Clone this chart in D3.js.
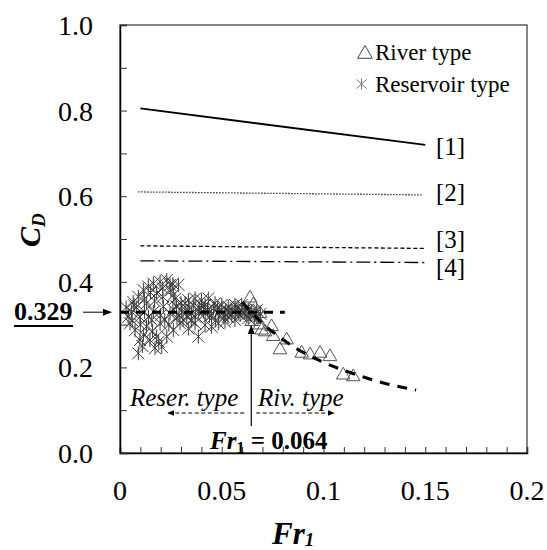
<!DOCTYPE html>
<html>
<head>
<meta charset="utf-8">
<script src="https://cdn.jsdelivr.net/npm/d3@7"></script>
<style>
  body { margin: 0; background: #fff; }
</style>
</head>
<body>
<div id="chart-area"></div>
<script>
// Data
var resFr = [0.0057,0.0065,0.009,0.0115,0.0139,0.0164,0.0197,0.023,0.0246,0.0287,0.0262,0.018,0.0131,0.0098,0.0049,0.0074,0.0115,0.0098,0.009,0.0147,0.018,0.0205,0.0172,0.023,0.0262,0.0295,0.0197,0.0156,0.0246,0.0303,0.0278,0.0213,0.0164,0.0328,0.032,
  0.0336,0.0369,0.0401,0.0434,0.0418,0.0467,0.05,0.0532,0.0565,0.0598,0.0614,0.0647,0.0663,0.0352,0.0385,0.0418,0.045,0.0483,0.0516,0.0549,0.0581,0.0369,0.0336,0.0385,0.0418,0.045,0.0483,0.0516,0.0565,0.063,0.0672,0.068,
  0.004,0.008,0.012,0.014,0.02,0.022,0.026,0.029,0.031,0.034,0.036,0.039,0.043,0.046,0.049,0.052,0.055,0.057,0.06,0.062,0.064,
  0.003,0.006,0.012,0.015,0.021,0.025,0.027,0.013,0.011,0.016,0.019,0.024,0.028,0.035,0.04,0.044,0.047,0.053,0.058,0.061,0.066,0.069,
  0.007,0.010,0.017,0.021,0.026,0.030,0.033,0.037,0.041,0.048,0.051,0.054,0.059,0.063];
var resCD = [0.330,0.353,0.365,0.381,0.389,0.396,0.400,0.404,0.393,0.393,0.369,0.373,0.350,0.318,0.303,0.287,0.276,0.264,0.233,0.264,0.272,0.248,0.245,0.272,0.287,0.303,0.303,0.311,0.326,0.334,0.342,0.342,0.330,0.318,0.350,
  0.357,0.361,0.357,0.361,0.346,0.350,0.346,0.342,0.346,0.346,0.334,0.330,0.322,0.326,0.330,0.326,0.322,0.326,0.326,0.322,0.326,0.303,0.291,0.272,0.299,0.295,0.303,0.307,0.311,0.315,0.334,0.318,
  0.318,0.340,0.330,0.318,0.322,0.311,0.336,0.322,0.311,0.340,0.345,0.338,0.335,0.338,0.331,0.334,0.333,0.338,0.331,0.322,0.326,
  0.340,0.310,0.360,0.375,0.385,0.380,0.360,0.295,0.250,0.285,0.260,0.300,0.315,0.310,0.345,0.320,0.310,0.318,0.340,0.328,0.315,0.325,
  0.345,0.300,0.355,0.365,0.395,0.350,0.330,0.318,0.330,0.340,0.318,0.330,0.322,0.335];

var rivFr = [0.0639,0.0655,0.0655,0.0647,0.0688,0.0688,0.0696,0.0745,0.0713,0.0753,0.0819,0.0786,0.0893,0.0934,0.0983,0.1032,0.1097,0.1146];
var rivCD = [0.362,0.346,0.330,0.307,0.326,0.299,0.287,0.295,0.283,0.272,0.264,0.241,0.233,0.229,0.233,0.225,0.182,0.178];

// trend of river type (read points)
var fitFr = [0.060,0.070,0.080,0.090,0.100,0.110,0.120,0.130,0.1455];
var fitCD = [0.353,0.303,0.265,0.235,0.212,0.193,0.177,0.163,0.147];

// reference lines [1]-[4]
var refNames = ["[1]","[2]","[3]","[4]"];
var refFr = [[0.01,0.15],[0.009,0.149],[0.01,0.15],[0.01,0.15]];
var refCD = [[0.805,0.720],[0.610,0.603],[0.484,0.478],[0.449,0.445]];
var refDash = [null, "1.2,1.8", "4,2.5", "14,4,2,4"];
var refLabelY = [155, 201, 248, 276];

var cdMean = 0.329, frCrit = 0.0645;

var xTicks = [0, 0.05, 0.1, 0.15, 0.2];
var yTicks = [0, 0.2, 0.4, 0.6, 0.8, 1.0];

var W = 547, H = 550;
var serif = "'Liberation Serif'";
var svg = d3.select("#chart-area").append("svg")
    .attr("width", W).attr("height", H);

function txt(px, py, size) {
  return svg.append("text").attr("x", px).attr("y", py)
      .style("font-family", serif).style("font-size", size + "px").attr("fill", "#000");
}

var x = d3.scaleLinear().domain([0, 0.2]).range([120, 527]);
var y = d3.scaleLinear().domain([0, 1]).range([453, 25]);

var defs = svg.append("defs");
defs.append("marker").attr("id", "ah").attr("viewBox", "0 0 10 10")
    .attr("refX", 9).attr("refY", 5).attr("markerWidth", 9).attr("markerHeight", 9)
    .attr("markerUnits", "userSpaceOnUse").attr("orient", "auto")
  .append("path").attr("d", "M0,1 L10,5 L0,9 Z").attr("fill", "#000");
defs.append("marker").attr("id", "ahs").attr("viewBox", "0 0 10 10")
    .attr("refX", 9).attr("refY", 5).attr("markerWidth", 7).attr("markerHeight", 7)
    .attr("markerUnits", "userSpaceOnUse").attr("orient", "auto")
  .append("path").attr("d", "M0,1 L10,5 L0,9 Z").attr("fill", "#000");

// frame
svg.append("rect").attr("x", 120).attr("y", 25).attr("width", 407).attr("height", 428)
    .attr("fill", "none").attr("stroke", "#444").attr("stroke-width", 1.3);

// Axes with inner ticks
var xAxis = svg.append("g").attr("transform", "translate(0,453)")
    .call(d3.axisBottom(x).tickValues(d3.range(0, 0.2001, 0.01)).tickSize(-6).tickFormat(""));
var yAxis = svg.append("g").attr("transform", "translate(120,0)")
    .call(d3.axisLeft(y).tickValues(d3.range(0, 1.001, 0.1)).tickSize(-7).tickFormat(""));
[xAxis, yAxis].forEach(function(a){
  a.select(".domain").attr("stroke", "#000").attr("stroke-width", 1.5);
  a.selectAll(".tick line").attr("stroke", "#333");
});

xTicks.forEach(function(d){
  txt(x(d), 500, 28).attr("text-anchor", "middle").text(d3.format("")(+d.toFixed(2)));
});
yTicks.forEach(function(d){
  txt(93, y(d) + 10, 28).attr("text-anchor", "end").text(d.toFixed(1));
});

// axis titles
var xt = txt(272, 544, 31).style("font-weight", "bold").style("font-style", "italic");
xt.append("tspan").text("Fr");
xt.append("tspan").style("font-size", "19px").attr("dy", 2).text("1");

var yt = txt(0, 0, 30).attr("transform", "translate(40,247) rotate(-90)")
    .style("font-weight", "bold").style("font-style", "italic");
yt.append("tspan").text("C");
yt.append("tspan").style("font-size", "19px").attr("dy", 5).text("D");

// scatter: reservoir type (asterisks)
var star = "M-6,-6L6,6M-6,6L6,-6M0,-7L0,7";
svg.append("g").selectAll("path").data(d3.range(resFr.length)).enter().append("path")
    .attr("transform", function(i){ return "translate(" + x(resFr[i]) + "," + y(resCD[i]) + ")"; })
    .attr("d", star).attr("stroke", "#3a3a3a").attr("stroke-width", 1).attr("fill", "none");

// scatter: river type (triangles)
var tri = d3.symbol(d3.symbolTriangle, 80);
svg.append("g").selectAll("path").data(d3.range(rivFr.length)).enter().append("path")
    .attr("transform", function(i){ return "translate(" + x(rivFr[i]) + "," + y(rivCD[i]) + ")"; })
    .attr("d", tri).attr("stroke", "#555").attr("stroke-width", 1).attr("fill", "none");

// reference lines
var line = d3.line().x(function(d){ return x(d[0]); }).y(function(d){ return y(d[1]); });
refNames.forEach(function(n, k){
  svg.append("path")
      .attr("d", line([[refFr[k][0], refCD[k][0]], [refFr[k][1], refCD[k][1]]]))
      .attr("fill", "none").attr("stroke", "#000")
      .attr("stroke-width", k == 0 ? 1.8 : 1.3)
      .attr("stroke-dasharray", refDash[k]);
  txt(436, refLabelY[k], 25).text(n);
});

// mean of reservoir type
svg.append("path").attr("d", line([[0, cdMean], [0.081, cdMean]]))
    .attr("stroke", "#000").attr("stroke-width", 3).attr("stroke-dasharray", "9,7");

// river trend
svg.append("path")
    .attr("d", d3.line().curve(d3.curveMonotoneX)
      .x(function(i){ return x(fitFr[i]); }).y(function(i){ return y(fitCD[i]); })(d3.range(fitFr.length)))
    .attr("fill", "none").attr("stroke", "#000").attr("stroke-width", 3).attr("stroke-dasharray", "10,8");

// 0.329 label + arrow
txt(14, 320, 26).style("font-weight", "bold").text("0.329");
svg.append("line").attr("x1", 14).attr("x2", 73).attr("y1", 326).attr("y2", 326)
    .attr("stroke", "#000").attr("stroke-width", 2);
svg.append("line").attr("x1", 83).attr("x2", 111).attr("y1", y(cdMean)).attr("y2", y(cdMean))
    .attr("stroke", "#000").attr("stroke-width", 1).attr("marker-end", "url(#ah)");

// critical Froude number
svg.append("line").attr("x1", x(frCrit)).attr("x2", x(frCrit)).attr("y1", 426).attr("y2", 326)
    .attr("stroke", "#000").attr("stroke-width", 1.2).attr("marker-end", "url(#ah)");
svg.append("line").attr("x1", x(frCrit) - 7).attr("x2", 168).attr("y1", 413).attr("y2", 413)
    .attr("stroke", "#000").attr("stroke-dasharray", "4,2.5").attr("marker-end", "url(#ahs)");
svg.append("line").attr("x1", x(frCrit) + 5).attr("x2", 334).attr("y1", 413).attr("y2", 413)
    .attr("stroke", "#000").attr("stroke-dasharray", "4,2.5").attr("marker-end", "url(#ahs)");

txt(130, 406, 25).style("font-style", "italic").text("Reser. type");
txt(258, 406, 25).style("font-style", "italic").text("Riv. type");

var fr = txt(210, 449, 25).style("font-weight", "bold");
fr.append("tspan").style("font-style", "italic").text("Fr");
fr.append("tspan").style("font-size", "16px").attr("dy", 4).text("1");
fr.append("tspan").attr("dy", -4).text(" = 0.064");

// legend
svg.append("path").attr("transform", "translate(365,54)")
    .attr("d", d3.symbol(d3.symbolTriangle, 95)()).attr("fill", "none").attr("stroke", "#444");
txt(375, 60, 23).text("River type");
svg.append("path").attr("transform", "translate(361.5,84)")
    .attr("d", "M-5,-4.5L5,4.5M-5,4.5L5,-4.5M0,-5.5L0,5.5").attr("fill", "none").attr("stroke", "#777");
txt(375, 92, 23).text("Reservoir type");
</script>
</body>
</html>
